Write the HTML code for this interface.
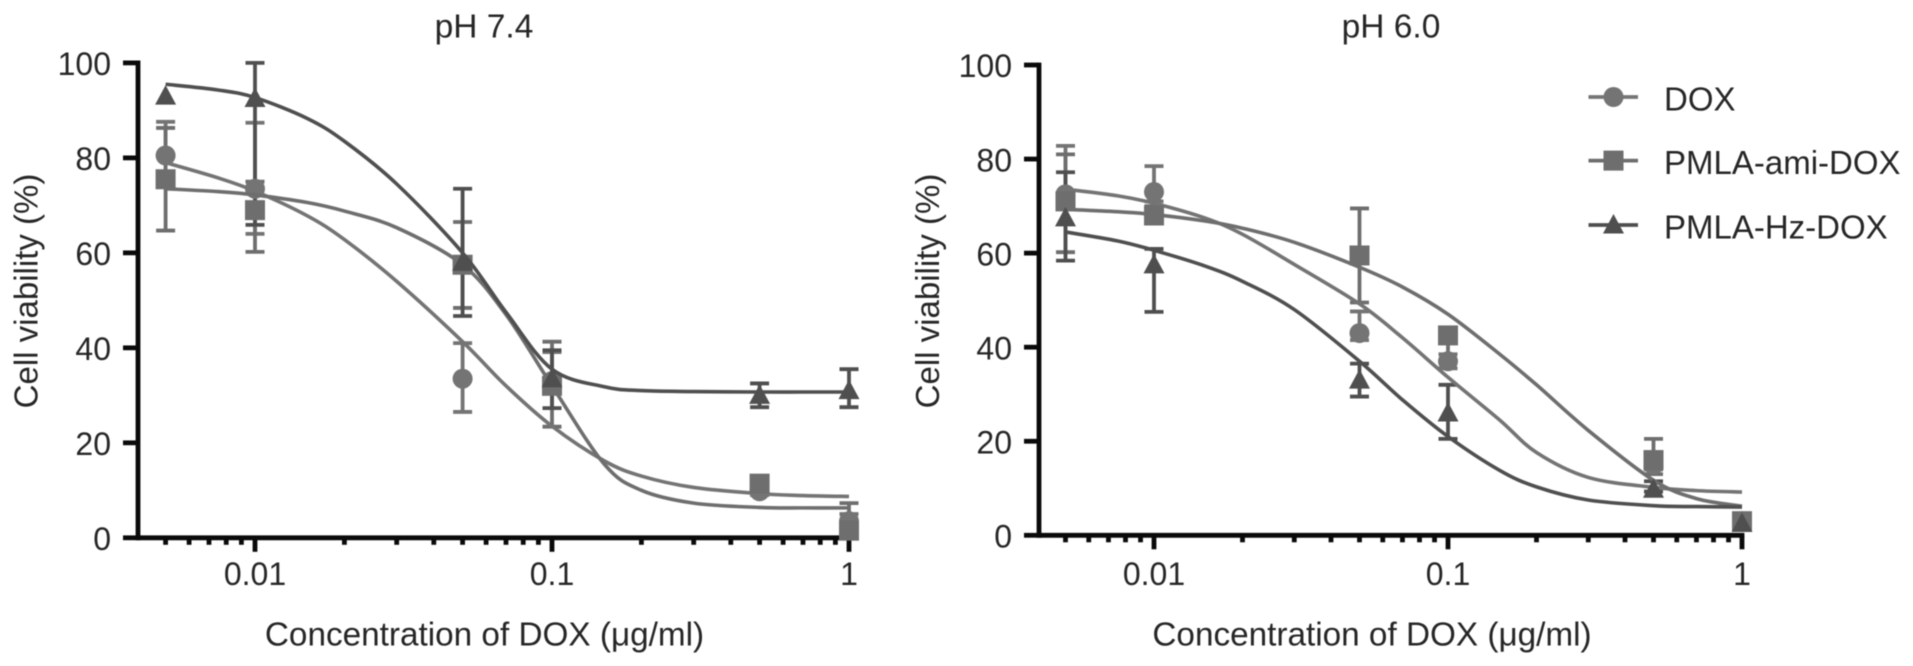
<!DOCTYPE html>
<html lang="en">
<head>
<meta charset="utf-8">
<title>Cell viability vs DOX concentration</title>
<style>
html,body{margin:0;padding:0;background:#fff;width:1913px;height:666px;overflow:hidden}
svg{display:block;filter:blur(0.55px)}
text{font-family:"Liberation Sans",sans-serif;fill:#262626}
</style>
</head>
<body>
<svg id="figure" xmlns="http://www.w3.org/2000/svg" width="1913" height="666" viewBox="0 0 1913 666"></svg>
<script>
// ---- shared data ----
const seriesNames = ['DOX', 'PMLA-ami-DOX', 'PMLA-Hz-DOX'];
const yTicks = [0, 20, 40, 60, 80, 100];
const xMajorTicks = [0.01, 0.1, 1];
const xMinorTicks = [0.005, 0.006, 0.007, 0.008, 0.009, 0.02, 0.03, 0.04, 0.05, 0.06, 0.07, 0.08, 0.09, 0.2, 0.3, 0.4, 0.5, 0.6, 0.7, 0.8, 0.9];
const xTickLabels = ['0.01', '0.1', '1'];
const doses = [0.005, 0.01, 0.05, 0.1, 0.5, 1];
const curveDoses = [0.005, 0.0075, 0.01, 0.015, 0.02, 0.03, 0.05, 0.07, 0.1, 0.15, 0.2, 0.3, 0.5, 0.7, 1];

// ---- pH 7.4 ----
const ph74DoxMean = [80.5, 73.5, 33.5, 33, 9.8, 3.5];
const ph74DoxLow = [75, 64, 26.5, 31, 9, 2];
const ph74DoxHigh = [87.6, 87.4, 41, 39.1, 11, 5];
const ph74AmiMean = [75.5, 69, 57.5, 32, 11.4, 1.5];
const ph74AmiLow = [64.7, 60.2, 48.4, 23.4, 9.5, 0.5];
const ph74AmiHigh = [86.3, 75, 66.5, 41.3, 13, 7.3];
const ph74HzMean = [93, 92.5, 58, 33.5, 30, 31];
const ph74HzLow = [93, 65.9, 46.7, 27.3, 27.5, 27.5];
const ph74HzHigh = [93, 100, 73.5, 39.5, 32.5, 35.5];
const ph74DoxCurve = [79, 75.8, 73, 67.8, 62.8, 54, 41.3, 32, 23.5, 16.2, 13, 10.6, 9.3, 8.9, 8.7];
const ph74AmiCurve = [73.5, 72.9, 72.2, 70.6, 68.8, 65.3, 57.5, 47, 32, 15.5, 10, 7.3, 6.4, 6.3, 6.3];
const ph74HzCurve = [95.5, 94.3, 92.7, 88.3, 83.5, 74.5, 60, 47.5, 35.5, 31.8, 31, 30.8, 30.7, 30.7, 30.7];

// ---- pH 6.0 ----
const ph60DoxMean = [72.5, 73, 43, 37, 15, 3];
const ph60DoxLow = [71, 71, 41.5, 35.5, 14, 2];
const ph60DoxHigh = [82.8, 78.5, 47.6, 38.5, 16, 4];
const ph60AmiMean = [71, 68, 59.5, 42.5, 16, 3];
const ph60AmiLow = [60.2, 66.5, 49.5, 37, 13, 2];
const ph60AmiHigh = [81, 70, 69.5, 44, 20.5, 4];
const ph60HzMean = [67.5, 57.5, 33, 26, 9.8, 2.5];
const ph60HzLow = [58.4, 47.5, 29.5, 20.5, 9.3, 2];
const ph60HzHigh = [77.2, 60.9, 36.5, 32, 11.5, 3];
const ph60DoxCurve = [73.6, 72.2, 70.6, 67.4, 64, 57.6, 49.2, 42, 33.6, 24.5, 17.6, 12.3, 10.2, 9.5, 9.2];
const ph60AmiCurve = [69.3, 68.8, 68.2, 66.8, 65.3, 62.3, 57, 52.8, 47, 38.5, 32, 22.3, 11.7, 7.8, 6.2];
const ph60HzCurve = [64.5, 62.6, 60.6, 57.2, 54, 48, 37, 28.8, 21, 13.8, 10.3, 7.5, 6.3, 6.1, 6];

const ph74Series = [
  {mean: ph74DoxMean, low: ph74DoxLow, high: ph74DoxHigh, curve: ph74DoxCurve},
  {mean: ph74AmiMean, low: ph74AmiLow, high: ph74AmiHigh, curve: ph74AmiCurve},
  {mean: ph74HzMean, low: ph74HzLow, high: ph74HzHigh, curve: ph74HzCurve}
];
const ph60Series = [
  {mean: ph60DoxMean, low: ph60DoxLow, high: ph60DoxHigh, curve: ph60DoxCurve},
  {mean: ph60AmiMean, low: ph60AmiLow, high: ph60AmiHigh, curve: ph60AmiCurve},
  {mean: ph60HzMean, low: ph60HzLow, high: ph60HzHigh, curve: ph60HzCurve}
];

// ---- drawing ----
const NS = 'http://www.w3.org/2000/svg';
const svg = document.getElementById('figure');
const seriesColors = ['#747474', '#6e6e6e', '#4f4f4f'];
const seriesKeys = ['dox', 'pmla-ami-dox', 'pmla-hz-dox'];

function make(parent, tag, attrs, text) {
  const el = document.createElementNS(NS, tag);
  for (const k in attrs) el.setAttribute(k, attrs[k]);
  if (text !== undefined) el.textContent = text;
  parent.appendChild(el);
  return el;
}
function smoothPath(pts) {
  let d = 'M' + pts[0][0].toFixed(2) + ' ' + pts[0][1].toFixed(2);
  for (let i = 0; i < pts.length - 1; i++) {
    const p0 = pts[Math.max(0, i - 1)], p1 = pts[i], p2 = pts[i + 1], p3 = pts[Math.min(pts.length - 1, i + 2)];
    const c1x = p1[0] + (p2[0] - p0[0]) / 6, c1y = p1[1] + (p2[1] - p0[1]) / 6;
    const c2x = p2[0] - (p3[0] - p1[0]) / 6, c2y = p2[1] - (p3[1] - p1[1]) / 6;
    d += 'C' + c1x.toFixed(2) + ' ' + c1y.toFixed(2) + ' ' + c2x.toFixed(2) + ' ' + c2y.toFixed(2) + ' ' + p2[0].toFixed(2) + ' ' + p2[1].toFixed(2);
  }
  return d;
}
function drawMarker(parent, kind, cx, cy, color) {
  let m;
  if (kind === 0) m = make(parent, 'circle', {cx: cx, cy: cy, r: 10, fill: color});
  else if (kind === 1) m = make(parent, 'rect', {x: cx - 10, y: cy - 10, width: 20, height: 20, fill: color});
  else m = make(parent, 'polygon', {points: (cx - 10.5) + ',' + (cy + 8.5) + ' ' + (cx + 10.5) + ',' + (cy + 8.5) + ' ' + cx + ',' + (cy - 11), fill: color});
  return m;
}
function drawPanel(cfg) {
  const g = make(svg, 'g', {});
  
  
  const X = v => cfg.x1 + (Math.log10(v) + 2) * cfg.decade;
  const Y = v => cfg.y0 + (cfg.y100 - cfg.y0) * v / 100;

  // title
  const title = make(g, 'text', {x: cfg.titleX, y: 37.4, 'font-size': 33.5, 'text-anchor': 'middle'}, cfg.title);
  
  

  // axes
  const axes = make(g, 'g', {stroke: '#0a0a0a', 'stroke-width': 4.8, fill: 'none'});
  
  
  make(axes, 'line', {x1: cfg.axisX, y1: Y(100) - 2.4, x2: cfg.axisX, y2: cfg.y0 + 2.4});
  make(axes, 'line', {x1: cfg.axisX, y1: cfg.y0, x2: X(1) + 2.4, y2: cfg.y0});
  yTicks.forEach(t => {
    make(axes, 'line', {x1: cfg.axisX - 15, y1: Y(t), x2: cfg.axisX, y2: Y(t)});
    const lab = make(g, 'text', {x: cfg.axisX - 27, y: Y(t) + 12.2, 'font-size': 32, 'text-anchor': 'end'}, String(t));
    
    
  });
  xMinorTicks.forEach(t => {
    make(axes, 'line', {x1: X(t), y1: cfg.y0, x2: X(t), y2: cfg.y0 + 7});
  });
  xMajorTicks.forEach((t, i) => {
    make(axes, 'line', {x1: X(t), y1: cfg.y0, x2: X(t), y2: cfg.y0 + 14});
    const lab = make(g, 'text', {x: X(t), y: 585, 'font-size': 32, 'text-anchor': 'middle'}, xTickLabels[i]);
    
    
  });

  // axis titles
  const xt = make(g, 'text', {x: cfg.xTitleX, y: 645.5, 'font-size': 33.3, 'text-anchor': 'middle'}, 'Concentration of DOX (μg/ml)');
  
  
  const yt = make(g, 'text', {x: 0, y: 0, 'font-size': 33, 'text-anchor': 'middle', transform: 'translate(' + cfg.yTitleX + ' 291) rotate(-90)'}, 'Cell viability (%)');
  
  

  // error bars sit beneath every marker
  cfg.series.forEach((s, si) => {
    const color = seriesColors[si];
    const eg = make(g, 'g', {stroke: color, 'stroke-width': 3.8});
    
    
    doses.forEach((d, i) => {
      const x = X(d);
      if (s.low[i] === s.high[i]) return;
      make(eg, 'line', {x1: x, y1: Y(s.low[i]), x2: x, y2: Y(s.high[i])});
      make(eg, 'line', {x1: x - 9.5, y1: Y(s.low[i]), x2: x + 9.5, y2: Y(s.low[i])});
      make(eg, 'line', {x1: x - 9.5, y1: Y(s.high[i]), x2: x + 9.5, y2: Y(s.high[i])});
    });
  });

  // markers and fitted curves
  cfg.series.forEach((s, si) => {
    const color = seriesColors[si];
    const sg = make(g, 'g', {});
    
    
    doses.forEach((d, i) => {
      const m = drawMarker(sg, si, X(d), Y(s.mean[i]), color);
      
      
    });
    const pts = curveDoses.map((d, i) => [X(d), Y(s.curve[i])]);
    const line = make(sg, 'path', {d: smoothPath(pts), fill: 'none', stroke: color, 'stroke-width': 3.6});
    
    
  });
}

drawPanel({key: 'ph-7-4', title: 'pH 7.4', titleX: 484, series: ph74Series, axisX: 138, x1: 255, decade: 297, y0: 537.8, y100: 62.9, xTitleX: 484.5, yTitleX: 37.5});
drawPanel({key: 'ph-6-0', title: 'pH 6.0', titleX: 1391, series: ph60Series, axisX: 1039, x1: 1154, decade: 294, y0: 535.3, y100: 65, xTitleX: 1372, yTitleX: 939});

// legend
const legend = make(svg, 'g', {});


const legendYs = [97, 160.6, 225];
seriesNames.forEach((name, i) => {
  const row = make(legend, 'g', {});
  
  
  make(row, 'line', {x1: 1588.5, y1: legendYs[i], x2: 1638, y2: legendYs[i], stroke: seriesColors[i], 'stroke-width': 3.8});
  drawMarker(row, i, 1613.5, legendYs[i], seriesColors[i]);
  make(row, 'text', {x: 1664, y: legendYs[i] + 13.5, 'font-size': 33}, name);
});
</script>
</body>
</html>
